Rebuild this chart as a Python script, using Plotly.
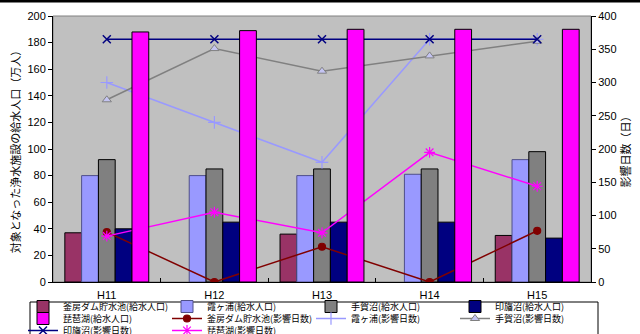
import plotly.graph_objects as go

# 年度
years = ["H11", "H12", "H13", "H14", "H15"]

# 対象となった浄水施設の給水人口（万人）
kamafusa_pop = [37, None, 36, None, 35]
kasumi_pop = [80, 80, 80, 81, 92]
tega_pop = [92, 85, 85, 85, 98]
inba_pop = [40, 45, 45, 45, 33]
biwa_pop = [188, 189, 190, 190, 190]

# 影響日数（日）
kamafusa_days = [75, 0, 53, 0, 77]
kasumi_days = [300, 240, 180, 365, 365]
tega_days = [274, 351, 317, 340, 362]
inba_days = [365, 365, 365, 365, 365]
biwa_days = [69, 105, 74, 195, 144]

JP = "Noto Sans CJK JP"
NUM = "Liberation Sans"

BW = 0.156  # bar width in category units

fig = go.Figure()


def add_bar(name, values, color, slot, yaxis, legend, edge="#000000", rank=1000):
    fig.add_trace(go.Bar(
        x=years, y=values, name=name,
        marker=dict(color=color, line=dict(color=edge, width=1)),
        width=BW, offset=(slot - 2.5) * BW,
        yaxis=yaxis, legend=legend, legendrank=rank,
    ))


def add_line(name, values, color, symbol, size, legend, mfill=None, mline=None, mwidth=1.2):
    fig.add_trace(go.Scatter(
        x=years, y=values, name=name, mode="lines+markers",
        line=dict(color=color, width=1.5),
        marker=dict(symbol=symbol, size=size,
                    color=mfill if mfill else color,
                    line=dict(color=mline if mline else color, width=mwidth)),
        yaxis="y2", legend=legend,
    ))


# 給水人口（棒）
add_bar("釜房ダム貯水池(給水人口)", kamafusa_pop, "#993366", 0, "y", "legend")
add_bar("霞ヶ浦(給水人口)", kasumi_pop, "#9999FF", 1, "y", "legend", edge="#50508a")
add_bar("手賀沼(給水人口)", tega_pop, "#808080", 2, "y", "legend")
add_bar("印旛沼(給水人口)", inba_pop, "#000080", 3, "y", "legend")

# 影響日数（折れ線）
add_line("釜房ダム貯水池(影響日数)", kamafusa_days, "#800000", "circle", 7, "legend2")
add_line("霞ヶ浦(影響日数)", kasumi_days, "#9999FF", "cross-thin-open", 9, "legend2")
add_line("手賀沼(影響日数)", tega_days, "#808080", "triangle-up", 8, "legend2",
         mfill="#C4C4F2", mline="#808080", mwidth=1)
add_line("印旛沼(影響日数)", inba_days, "#000080", "x-thin-open", 8, "legend3", mwidth=1.5)
add_line("琵琶湖(影響日数)", biwa_days, "#FF00FF", "asterisk-open", 9, "legend3", mwidth=1.2)

# 琵琶湖の給水人口は最前面に描く（凡例では2段目の先頭）
add_bar("琵琶湖(給水人口)", biwa_pop, "#FF00FF", 4, "y3", "legend2", rank=1)

W, H = 640, 334
L, R, T, B = 53, 591, 16, 282
pw, ph = R - L, B - T


def px_x(px):
    return (px - L) / pw


def px_y(py):
    return (B - py) / ph


legend_common = dict(
    orientation="h", xref="paper", yref="paper",
    xanchor="left", yanchor="top", entrywidth=99, entrywidthmode="pixels",
    bgcolor="rgba(0,0,0,0)", borderwidth=0,
    font=dict(family=JP, size=9, color="#000000"),
    itemclick=False, itemdoubleclick=False, tracegroupgap=0,
    traceorder="normal",
)

legend_x = px_x(23)

fig.update_layout(
    width=W, height=H,
    margin=dict(l=L, r=W - R, t=T, b=H - B, autoexpand=False),
    paper_bgcolor="#FFFFFF",
    plot_bgcolor="#C0C0C0",
    barmode="overlay",
    showlegend=True,
    font=dict(family=NUM, size=11, color="#000000"),
    xaxis=dict(
        type="category", range=[-0.5, 4.5],
        showline=True, linecolor="#000000", linewidth=1,
        ticks="inside", tickson="boundaries", ticklen=4, tickcolor="#000000",
        ticklabelstandoff=3,
        tickfont=dict(family=NUM, size=11, color="#000000"),
        showgrid=False, zeroline=False, fixedrange=True,
    ),
    yaxis=dict(
        range=[0, 200], dtick=20, side="left",
        showline=True, linecolor="#000000", linewidth=1,
        ticks="outside", ticklen=4, tickcolor="#000000",
        tickfont=dict(family=NUM, size=11, color="#000000"),
        showgrid=False, zeroline=False, fixedrange=True,
        title=dict(text="対象となった浄水施設の給水人口（万人）",
                   font=dict(family=JP, size=11, color="#000000"), standoff=4),
    ),
    yaxis2=dict(
        range=[0, 400], dtick=50, side="right", overlaying="y",
        showline=True, linecolor="#000000", linewidth=1,
        ticks="outside", ticklen=4, tickcolor="#000000",
        tickfont=dict(family=NUM, size=11, color="#000000"),
        showgrid=False, zeroline=False, fixedrange=True,
        title=dict(text="影響日数（日）",
                   font=dict(family=JP, size=11, color="#000000"), standoff=4),
    ),
    yaxis3=dict(
        range=[0, 200], overlaying="y", visible=False, fixedrange=True,
    ),
    legend=dict(legend_common, x=legend_x, y=px_y(292)),
    legend2=dict(legend_common, x=legend_x, y=px_y(304)),
    legend3=dict(legend_common, x=legend_x, y=px_y(316)),
    shapes=[
        # plot area outline
        dict(type="rect", xref="paper", yref="paper", x0=0, x1=1, y0=0, y1=1,
             line=dict(color="#808080", width=1), layer="below"),
        # legend frame
        dict(type="rect", xref="paper", yref="paper",
             x0=px_x(30), x1=px_x(598), y0=px_y(345), y1=px_y(302),
             line=dict(color="#000000", width=1), fillcolor="rgba(0,0,0,0)"),
        # top frame line
        dict(type="line", xref="paper", yref="paper",
             x0=px_x(0), x1=px_x(640), y0=px_y(1), y1=px_y(1),
             line=dict(color="#000000", width=3)),
    ],
)

fig.write_html("out.html")
